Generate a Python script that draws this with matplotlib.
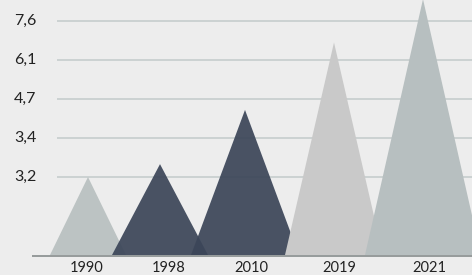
# -*- coding: utf-8 -*-

import matplotlib
matplotlib.use('Agg')
import matplotlib.pyplot as plt
from matplotlib.patches import Polygon

# data
years = ['1990', '1998', '2010', '2019', '2021']
peaks = [2.0, 2.33, 3.72, 5.45, 6.56]          # height of each peak, in grid steps
widths = [38, 48, 54, 49, 58]                   # half base width
tick_labels = ['3,2', '3,4', '4,7', '6,1', '7,6']
tick_pos = [2, 3, 4, 5, 6]

# layout
centers = [88, 160, 245, 334, 423]
label_x = [87, 169, 251, 339, 429]
colors = ['#bcc3c3', '#3c4659', '#3c4659', '#c9c9c9', '#b7bfc0']
alphas = [1.0, 0.93, 0.93, 1.0, 1.0]

step = 39.0
fig = plt.figure(figsize=(4.72, 2.75), dpi=100)
fig.patch.set_facecolor('#ededed')
ax = fig.add_axes([0, 0, 1, 1])
ax.set_facecolor('#ededed')
ax.set_xlim(0, 472)
ax.set_ylim(-20 / step, 255 / step)
ax.axis('off')

font = 'Lato'

for p, lab in zip(tick_pos, tick_labels):
    ax.hlines(p, 57, 472, color='#c9d0d0', linewidth=1.3, zorder=1)
    ax.text(14, p, lab, ha='left', va='center', fontsize=11.5,
            color='#222222', family=font)

ax.hlines(-0.03, 32, 472, color='#8e9494', linewidth=1.3, zorder=2)

for c, h, w, col, a in zip(centers, peaks, widths, colors, alphas):
    tri = Polygon([(c - w, 0), (c, h), (c + w, 0)], closed=True,
                  facecolor=col, edgecolor='none', alpha=a, zorder=3)
    ax.add_patch(tri)

for x, y in zip(label_x, years):
    ax.text(x, -17.0 / step, y, ha='center', va='baseline', fontsize=10.5,
            color='#222222', family=font)

fig.savefig('out.png', dpi=100, facecolor=fig.get_facecolor())
